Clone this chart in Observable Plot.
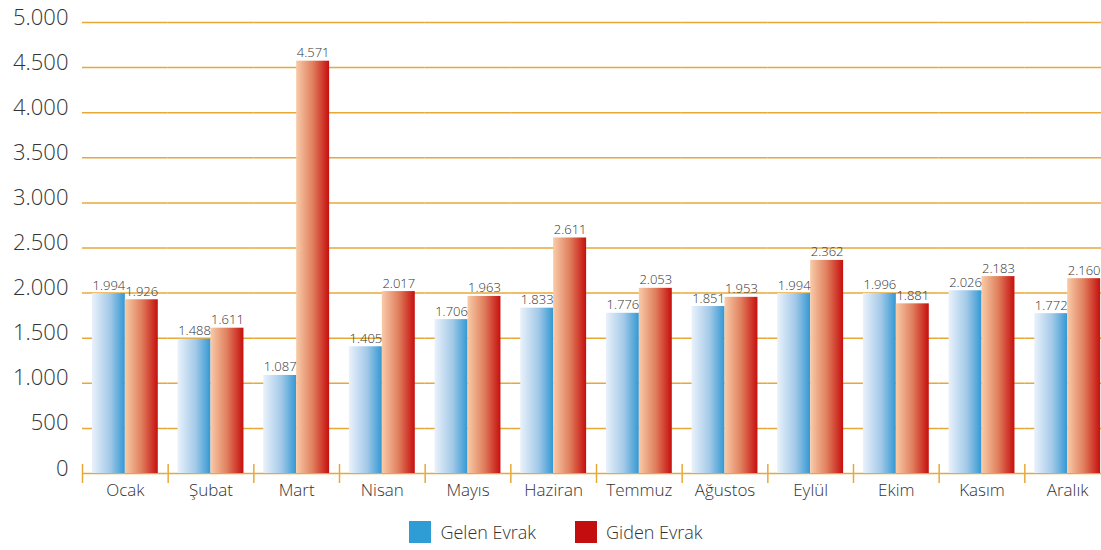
<!DOCTYPE html>
<html>
<head>
<meta charset="utf-8">
<script src="https://cdn.jsdelivr.net/npm/d3@7"></script>
<script src="https://cdn.jsdelivr.net/npm/@observablehq/plot@0.6"></script>
<style>
  html, body { margin: 0; padding: 0; background: #fff; overflow: hidden; }
  #wrap { width: 1101px; height: 505px; overflow: hidden; }
  #wrap svg { max-width: none !important; }
  #legend { width: 1101px; display: flex; justify-content: center; align-items: center; margin-top: 15px; padding-left: 11px; box-sizing: border-box;
    font-family: "Open Sans", sans-serif; font-weight: 300; font-size: 18px; color: #333; }
  .item { display: flex; align-items: center; }
  .sw { width: 22px; height: 22px; margin-right: 9px; }
</style>
</head>
<body>
<div id="wrap"></div>
<div id="legend"></div>
<script>
const months = ["Ocak","Şubat","Mart","Nisan","Mayıs","Haziran","Temmuz","Ağustos","Eylül","Ekim","Kasım","Aralık"];
const seriesNames = ["Gelen Evrak","Giden Evrak"];
const gelen = [1994,1488,1087,1405,1706,1833,1776,1851,1994,1996,2026,1772];
const giden = [1926,1611,4571,2017,1963,2611,2053,1953,2362,1881,2183,2160];
const yTicks = [0,500,1000,1500,2000,2500,3000,3500,4000,4500,5000];
const legendColors = ["#2e9dd5","#c40d0e"];

const data = months.flatMap((m, i) => [
  {month: m, series: seriesNames[0], value: gelen[i]},
  {month: m, series: seriesNames[1], value: giden[i]}
]);

const loc = d3.formatLocale({decimal: ",", thousands: ".", grouping: [3], currency: ["", ""]});
const fmt = loc.format(",d");

const W = 1110, ML = 82, MR = 0;
const step = (W - ML - MR) / months.length;
const grid = "#e8a838";
const txt = "#333";

const chart = Plot.plot({
  width: W, height: 505,
  marginLeft: ML, marginRight: MR, marginTop: 22, marginBottom: 32,
  style: {fontFamily: "'Open Sans', sans-serif", fontWeight: 300, color: txt, background: "#fff", maxWidth: "none"},
  fx: {domain: months, padding: 0, round: false, label: null},
  x: {domain: seriesNames, paddingInner: 0, paddingOuter: 0.3, round: false, axis: null},
  y: {domain: [0, 5000], axis: null},
  marks: [
    Plot.ruleY(yTicks, {stroke: grid, strokeWidth: 1.5}),
    Plot.barY(data.filter(d => d.series === seriesNames[0]), {fx: "month", x: "series", y: "value", fill: "url(#gBlue)"}),
    Plot.barY(data.filter(d => d.series === seriesNames[1]), {fx: "month", x: "series", y: "value", fill: "url(#gRed)"}),
    Plot.text(data, {fx: "month", x: "series", y: "value", text: d => fmt(d.value), lineAnchor: "bottom", dy: -4, fontSize: 13, fill: txt}),
    Plot.axisY(yTicks, {tickSize: 0, tickPadding: 14, fontSize: 22, dy: -5, tickFormat: fmt, fill: txt, label: null}),
    Plot.axisFx({anchor: "bottom", tickSize: 0, tickPadding: 10, fontSize: 17, fill: txt, label: null}),
    Plot.axisFx({anchor: "bottom", tickSize: 19, dy: -9, dx: -step / 2, tickFormat: () => "", stroke: grid, strokeWidth: 1.5, label: null})
  ]
});

const svg = d3.select(chart);
const defs = svg.insert("defs", ":first-child");
const gb = defs.append("linearGradient").attr("id", "gBlue").attr("x1", "0").attr("x2", "1").attr("y1", "0").attr("y2", "0");
gb.append("stop").attr("offset", "0%").attr("stop-color", "#eaf2fb");
gb.append("stop").attr("offset", "55%").attr("stop-color", "#a3c9e8");
gb.append("stop").attr("offset", "100%").attr("stop-color", "#3398d3");
const gr = defs.append("linearGradient").attr("id", "gRed").attr("x1", "0").attr("x2", "1").attr("y1", "0").attr("y2", "0");
gr.append("stop").attr("offset", "0%").attr("stop-color", "#f9cba8");
gr.append("stop").attr("offset", "50%").attr("stop-color", "#e0805e");
gr.append("stop").attr("offset", "100%").attr("stop-color", "#c60f0e");

document.getElementById("wrap").appendChild(chart);

const legend = d3.select("#legend");
seriesNames.forEach((s, i) => {
  const it = legend.append("div").attr("class", "item").style("margin-right", i === 0 ? "39px" : "0");
  it.append("div").attr("class", "sw").style("background", legendColors[i]);
  it.append("span").text(s);
});
</script>
</body>
</html>
